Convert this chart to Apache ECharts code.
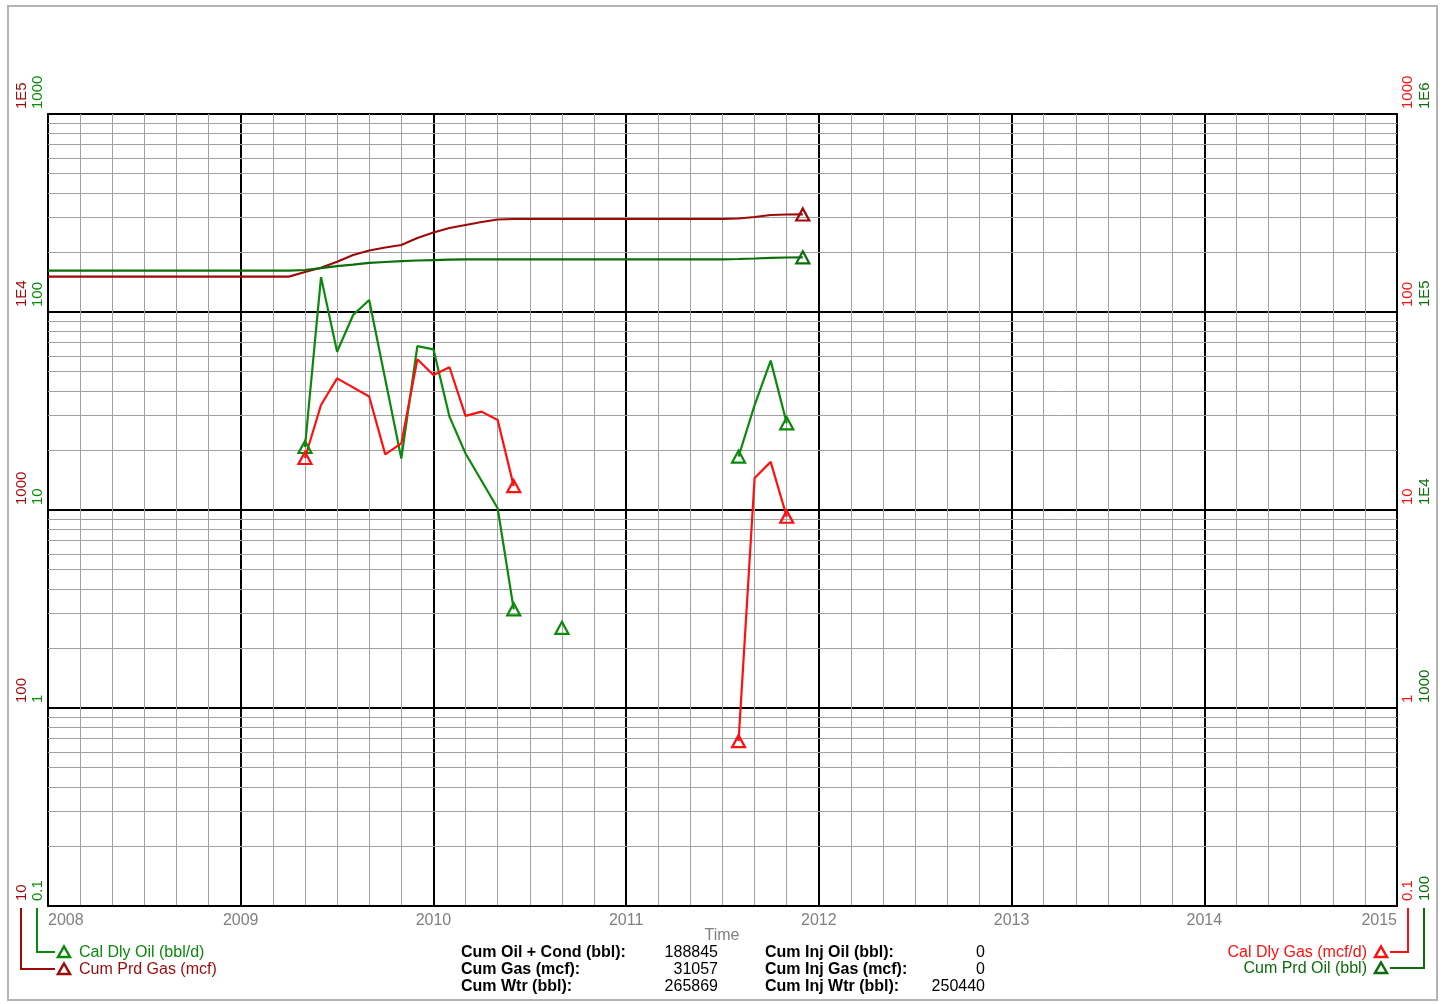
<!DOCTYPE html>
<html>
<head>
<meta charset="utf-8">
<script src="https://cdn.jsdelivr.net/npm/echarts@6/dist/echarts.min.js"></script>
<style>
html,body{margin:0;padding:0;background:#fff;}
#chart{width:1445px;height:1004px;}
</style>
</head>
<body>
<div id="chart"></div>
<script>
// ---------- data ----------
const oilDates  = ['2009-05','2009-06','2009-07','2009-08','2009-09','2009-11','2009-12','2010-01','2010-02','2010-03','2010-05','2010-06','2010-07','2010-09','2010-10','2011-08','2011-09','2011-10','2011-11'];
const oilValues = [20.8, 150, 63, 96.6, 115, 18.2, 67.3, 64.8, 29.6, 19.3, 10.2, 3.15, null, 2.54, null, 18.6, 33.9, 56.8, 27.4];

const gasDates  = ['2009-05','2009-06','2009-07','2009-09','2009-10','2009-11','2009-12','2010-01','2010-02','2010-03','2010-04','2010-05','2010-06','2010-07','2011-08','2011-09','2011-10','2011-11'];
const gasValues = [18.3, 33.9, 46.2, 37.4, 19.1, 21.7, 57.7, 48.1, 52.6, 29.9, 31.4, 28.5, 13.2, null, 0.68, 14.5, 17.5, 9.25];

const cumGasDates  = ['2008-01','2009-04','2009-05','2009-06','2009-07','2009-08','2009-09','2009-10','2009-11','2009-12','2010-01','2010-02','2010-03','2010-04','2010-05','2010-06','2011-07','2011-08','2011-09','2011-10','2011-11','2011-12'];
const cumGasValues = [15080, 15080, 15920, 16740, 17950, 19410, 20450, 21180, 21800, 23640, 25200, 26560, 27500, 28480, 29320, 29490, 29490, 29660, 30180, 30900, 31080, 31100];

const cumOilDates  = ['2008-01','2009-04','2009-05','2009-06','2009-07','2009-08','2009-09','2009-10','2009-11','2009-12','2010-01','2010-02','2010-03','2011-07','2011-08','2011-09','2011-10','2011-11','2011-12'];
const cumOilValues = [161700, 161700, 163000, 166500, 170500, 173500, 177000, 178900, 180500, 182000, 183000, 183900, 184500, 184500, 185200, 186300, 187800, 188500, 188845];

const yearRange = [2008, 2015];
const cumGasLabels = ['10','100','1000','1E4','1E5'];
const dailyLabels  = ['0.1','1','10','100','1000'];
const cumOilLabels = ['100','1000','1E4','1E5','1E6'];
const minorMultipliers = [2,3,4,5,6,7,8,9];
const xAxisTitle = 'Time';

const statsLeft = [['Cum Oil + Cond (bbl):','188845'],['Cum Gas (mcf):','31057'],['Cum Wtr (bbl):','265869']];
const statsRight = [['Cum Inj Oil (bbl):','0'],['Cum Inj Gas (mcf):','0'],['Cum Inj Wtr (bbl):','250440']];

// ---------- colours ----------
const C_OIL = '#0a8a0a', C_GAS = '#ff1010', C_CGAS = '#9e0a0a', C_COIL = '#0b6e0b';
const FONT = 'Liberation Sans, Arial, sans-serif';

// ---------- helpers ----------
function toX(d){ const p = d.split('-').map(Number); return p[0] + (p[1]-1)/12; }
function pairs(dates, vals){ return dates.map((d,i)=>[toX(d), vals[i]]); }
function endPoints(pts){
  const out = [];
  pts.forEach((p,i)=>{
    if (p[1] == null) return;
    const prev = i>0 ? pts[i-1][1] : null;
    const next = i<pts.length-1 ? pts[i+1][1] : null;
    if (prev == null || next == null) out.push(p);
  });
  return out;
}
function labelFor(list, minExp){
  return v => list[Math.round(Math.log10(v)) - minExp] || '';
}

const oilPts = pairs(oilDates, oilValues);
const gasPts = pairs(gasDates, gasValues);
const cumGasPts = pairs(cumGasDates, cumGasValues);
const cumOilPts = pairs(cumOilDates, cumOilValues);

const minorLines = [];
for (let e=-1; e<=2; e++) minorMultipliers.forEach(k => minorLines.push({yAxis: +(k*Math.pow(10,e)).toPrecision(6)}));

function yAx(pos, min, max, labels, minExp, color, margin, extra){
  return Object.assign({
    type:'log', logBase:10, min:min, max:max, position:pos, offset:0,
    axisLine:{show:true, onZero:false, lineStyle:{color:'#000', width:2}},
    axisTick:{show:false},
    splitLine:{show:false},
    axisLabel:{
      show:true, rotate:90, align:'left', verticalAlign:'middle', margin:margin,
      padding:[0,0,0,5], color:color, fontSize:15, fontFamily:FONT,
      showMinLabel:true, showMaxLabel:true,
      formatter: labelFor(labels, minExp)
    }
  }, extra||{});
}

function markerSeries(pts, yIdx, color){
  return {
    type:'scatter', xAxisIndex:0, yAxisIndex:yIdx, data:pts, z:6,
    symbol:'triangle', symbolSize:[13,12],
    itemStyle:{color:'rgba(255,255,255,0)', borderColor:color, borderWidth:2.2, opacity:1},
    silent:true
  };
}
function lineSeries(name, pts, yIdx, color){
  return {
    name:name, type:'line', xAxisIndex:0, yAxisIndex:yIdx, data:pts, z:5,
    symbol:'none', showSymbol:false, connectNulls:false, smooth:false,
    lineStyle:{color:color, width:2.2}, itemStyle:{color:color}, silent:true
  };
}

const chart = echarts.init(document.getElementById('chart'), null, {renderer:'canvas'});

// graphic: border, legends, stats
const graphics = [];
graphics.push({type:'rect', shape:{x:8, y:6, width:1429, height:994}, style:{fill:'none', stroke:'#b4b4b4', lineWidth:2}, silent:true, z:-1});
function tri(cx, cy, color){
  return {type:'polygon', shape:{points:[[cx,cy-5.5],[cx+6,cy+5],[cx-6,cy+5]]}, style:{fill:'none', stroke:color, lineWidth:2.5}, silent:true};
}
function conn(points, color){
  return {type:'polyline', shape:{points:points}, style:{stroke:color, lineWidth:2, fill:'none'}, silent:true};
}
function txt(x, y, text, color, align, bold){
  return {type:'text', x:x, y:y, style:{text:text, fill:color, font:(bold?'bold ':'')+'16px '+FONT, textAlign:align, textVerticalAlign:'middle'}, silent:true};
}
// axis title
graphics.push(txt(722, 936, xAxisTitle, '#808080', 'center'));
// left legends
graphics.push(conn([[37,908],[37,952],[55,952]], C_OIL), tri(64,952,C_OIL), txt(79,953,'Cal Dly Oil (bbl/d)',C_OIL,'left'));
graphics.push(conn([[21,908],[21,969],[55,969]], C_CGAS), tri(64,969,C_CGAS), txt(79,970,'Cum Prd Gas (mcf)',C_CGAS,'left'));
// right legends
graphics.push(conn([[1408,908],[1408,952],[1390,952]], C_GAS), tri(1381,952,C_GAS), txt(1367,953,'Cal Dly Gas (mcf/d)',C_GAS,'right'));
graphics.push(conn([[1424,908],[1424,968],[1390,968]], C_COIL), tri(1381,968,C_COIL), txt(1367,969,'Cum Prd Oil (bbl)',C_COIL,'right'));
// stats
statsLeft.forEach((r,i)=>{ const y = 953 + i*17; graphics.push(txt(461,y,r[0],'#000','left',true), txt(718,y,r[1],'#000','right',false)); });
statsRight.forEach((r,i)=>{ const y = 953 + i*17; graphics.push(txt(765,y,r[0],'#000','left',true), txt(985,y,r[1],'#000','right',false)); });

const option = {
  animation:false,
  backgroundColor:'#fff',
  textStyle:{fontFamily:FONT},
  grid:{left:48, right:48, top:114, bottom:98, containLabel:false, outerBoundsMode:'none', show:false},
  xAxis:{
    type:'value', min:yearRange[0], max:yearRange[1], interval:1, position:'bottom',
    axisLine:{show:true, onZero:false, lineStyle:{color:'#000', width:2}},
    axisTick:{show:false},
    axisLabel:{color:'#808080', fontSize:16, fontFamily:FONT, margin:7, showMinLabel:true, showMaxLabel:true,
      alignMinLabel:'left', alignMaxLabel:'right', formatter:v=>String(Math.round(v))},
    splitLine:{show:true, lineStyle:{color:'#000', width:2}},
    minorTick:{show:false, splitNumber:6},
    minorSplitLine:{show:true, lineStyle:{color:'#a0a0a0', width:1}}
  },
  yAxis:[
    yAx('left', 10, 1e5, cumGasLabels, 1, C_CGAS, 26),
    yAx('left', 0.1, 1000, dailyLabels, -1, C_OIL, 10, {splitLine:{show:true, lineStyle:{color:'#000', width:2}}}),
    yAx('right', 0.1, 1000, dailyLabels, -1, C_GAS, 11),
    yAx('right', 100, 1e6, cumOilLabels, 2, C_COIL, 28)
  ],
  series:[
    {type:'line', xAxisIndex:0, yAxisIndex:1, data:[[yearRange[0], 1]], symbol:'none', lineStyle:{opacity:0}, silent:true, z:1,
     markLine:{silent:true, z:1, symbol:['none','none'], label:{show:false}, emphasis:{disabled:true},
       lineStyle:{color:'#a0a0a0', width:1, type:'solid'}, data:minorLines, animation:false}},
    lineSeries('Cum Prd Gas (mcf)', cumGasPts, 0, C_CGAS),
    lineSeries('Cum Prd Oil (bbl)', cumOilPts, 3, C_COIL),
    lineSeries('Cal Dly Oil (bbl/d)', oilPts, 1, C_OIL),
    lineSeries('Cal Dly Gas (mcf/d)', gasPts, 2, C_GAS),
    markerSeries([cumGasPts[cumGasPts.length-1]], 0, C_CGAS),
    markerSeries([cumOilPts[cumOilPts.length-1]], 3, C_COIL),
    markerSeries(endPoints(oilPts), 1, C_OIL),
    markerSeries(endPoints(gasPts), 2, C_GAS)
  ],
  graphic:graphics
};
chart.setOption(option);
</script>
</body>
</html>
